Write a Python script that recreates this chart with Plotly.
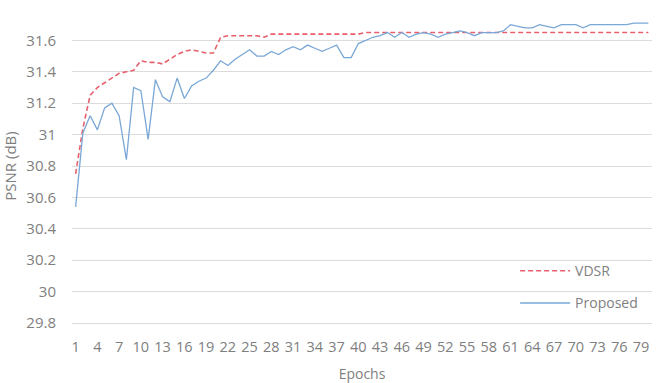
import plotly.graph_objects as go

epochs = list(range(1, 81))
x_tick_vals = list(range(1, 80, 3))
x_tick_text = [str(v) for v in x_tick_vals]
y_tick_vals = [29.8, 30.0, 30.2, 30.4, 30.6, 30.8, 31.0, 31.2, 31.4, 31.6, 31.8]
y_tick_text = ["29.8", "30", "30.2", "30.4", "30.6", "30.8", "31", "31.2", "31.4", "31.6", "31.8"]

vdsr = [30.75, 31.04, 31.25, 31.30, 31.33, 31.36, 31.39, 31.40, 31.41, 31.47,
        31.46, 31.46, 31.45, 31.48, 31.51, 31.53, 31.54, 31.53, 31.52, 31.52,
        31.62, 31.63, 31.63, 31.63, 31.63, 31.63, 31.62, 31.64, 31.64, 31.64,
        31.64, 31.64, 31.64, 31.64, 31.64, 31.64, 31.64, 31.64, 31.64, 31.64,
        31.65, 31.65, 31.65, 31.65, 31.65, 31.65, 31.65, 31.65, 31.65, 31.65,
        31.65, 31.65, 31.65, 31.65, 31.65, 31.65, 31.65, 31.65, 31.65, 31.65,
        31.65, 31.65, 31.65, 31.65, 31.65, 31.65, 31.65, 31.65, 31.65, 31.65,
        31.65, 31.65, 31.65, 31.65, 31.65, 31.65, 31.65, 31.65, 31.65, 31.65]

proposed = [30.54, 31.01, 31.12, 31.03, 31.17, 31.20, 31.12, 30.84, 31.30, 31.28,
            30.97, 31.35, 31.24, 31.21, 31.36, 31.23, 31.31, 31.34, 31.36, 31.41,
            31.47, 31.44, 31.48, 31.51, 31.54, 31.50, 31.50, 31.53, 31.51, 31.54,
            31.56, 31.54, 31.57, 31.55, 31.53, 31.55, 31.57, 31.49, 31.49, 31.58,
            31.60, 31.62, 31.63, 31.65, 31.62, 31.65, 31.62, 31.64, 31.65, 31.64,
            31.62, 31.64, 31.65, 31.66, 31.65, 31.63, 31.65, 31.65, 31.65, 31.66,
            31.70, 31.69, 31.68, 31.68, 31.70, 31.69, 31.68, 31.70, 31.70, 31.70,
            31.68, 31.70, 31.70, 31.70, 31.70, 31.70, 31.70, 31.71, 31.71, 31.71]

FONT = "Open Sans"
GRAY = "#808080"
GRID = "#dcdcdc"

fig = go.Figure()
fig.add_trace(go.Scatter(x=epochs, y=vdsr, mode="lines", name="VDSR",
                         legendgroup="a",
                         line=dict(color="#e8606c", width=1.6, dash="5px,3px")))
fig.add_trace(go.Scatter(x=epochs, y=proposed, mode="lines", name="Proposed",
                         legendgroup="b",
                         line=dict(color="#7aa7d6", width=1.3)))

fig.update_layout(
    width=661, height=383,
    margin=dict(l=72, r=9, t=9, b=60),
    paper_bgcolor="white", plot_bgcolor="white",
    font=dict(family=FONT, size=14, color=GRAY),
    showlegend=True,
    legend=dict(x=0.764, y=0.216, xanchor="left", yanchor="top",
                bgcolor="rgba(0,0,0,0)", font=dict(size=14, color=GRAY),
                itemwidth=50,
                traceorder="grouped", tracegroupgap=11),
    xaxis=dict(range=[0.5, 80.5], tickmode="array", tickvals=x_tick_vals,
               ticktext=x_tick_text, tickangle=0, showgrid=False,
               showline=True, linecolor=GRID, linewidth=1, ticks="",
               tickfont=dict(size=14.5), automargin=False,
               ticklabelstandoff=11, zeroline=False,
               title=dict(text="Epochs", standoff=15, font=dict(size=14, color=GRAY))),
    yaxis=dict(range=[29.8, 31.8], tickmode="array", tickvals=y_tick_vals,
               ticktext=y_tick_text, showgrid=True, gridcolor=GRID, gridwidth=1,
               tickfont=dict(size=15), automargin=False,
               zeroline=False, ticks="", ticklabelstandoff=15,
               title=dict(text="PSNR (dB)", standoff=16, font=dict(size=15, color=GRAY))),
)

fig.write_html("out.html")
